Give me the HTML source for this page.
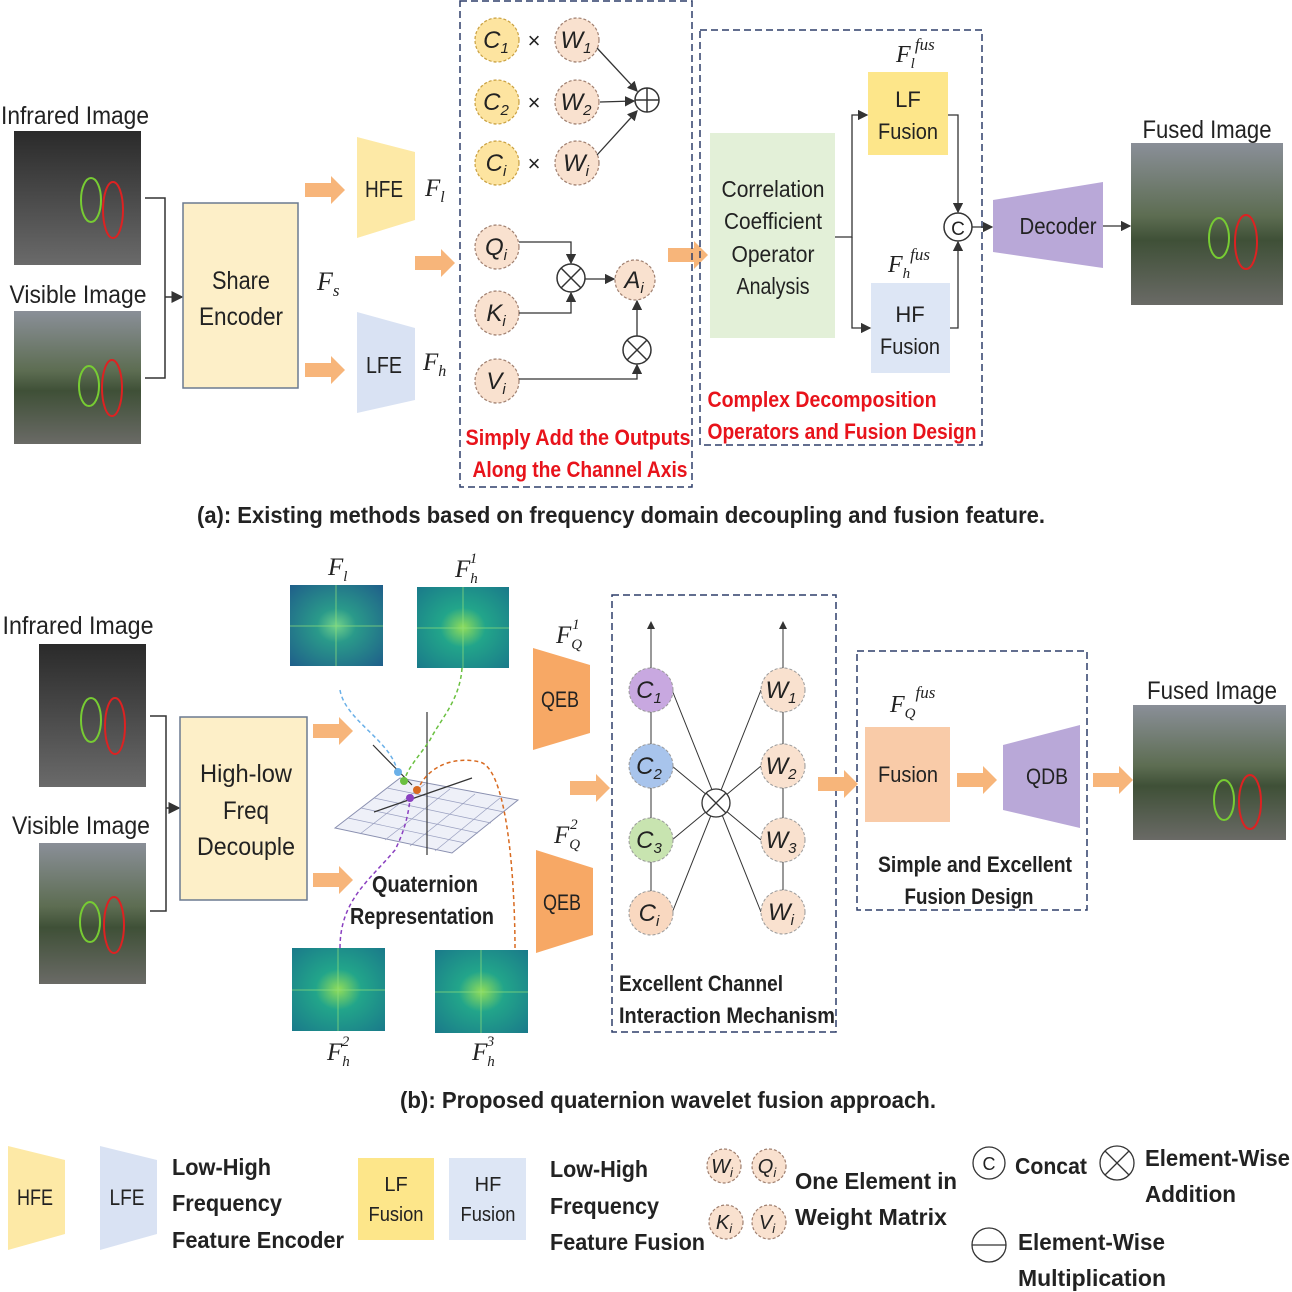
<!DOCTYPE html>
<html><head><meta charset="utf-8"><style>
html,body{margin:0;padding:0;background:#fff}
svg{display:block}
text{font-family:"Liberation Sans Narrow","Liberation Sans",sans-serif;fill:#222}
.m{font-family:"Liberation Serif",serif;font-style:italic}
.b{font-weight:bold}
.r{fill:#e8131b;font-weight:bold}
</style></head><body>
<svg width="1292" height="1292" viewBox="0 0 1292 1292" xmlns="http://www.w3.org/2000/svg">
<defs>
<marker id="ah" markerWidth="8" markerHeight="8" refX="7" refY="4" orient="auto"><path d="M0,0 L8,4 L0,8 z" fill="#333"/></marker>
<linearGradient id="ir" x1="0" y1="0" x2="0" y2="1"><stop offset="0" stop-color="#2a2a2a"/><stop offset="0.5" stop-color="#4a4a4a"/><stop offset="1" stop-color="#6a6a6a"/></linearGradient>
<linearGradient id="vi" x1="0" y1="0" x2="0" y2="1"><stop offset="0" stop-color="#8a8f98"/><stop offset="0.45" stop-color="#5d6d52"/><stop offset="0.6" stop-color="#3f5037"/><stop offset="1" stop-color="#6a6a66"/></linearGradient>
<radialGradient id="sp" cx="0.5" cy="0.5" r="0.7"><stop offset="0" stop-color="#6fd08a"/><stop offset="0.3" stop-color="#2a9a8a"/><stop offset="1" stop-color="#1f5f8a"/></radialGradient>
<radialGradient id="sp2" cx="0.5" cy="0.5" r="0.7"><stop offset="0" stop-color="#8fdc5a"/><stop offset="0.35" stop-color="#22a58a"/><stop offset="1" stop-color="#1a7a8a"/></radialGradient>
<g id="oarr"><path d="M0,-7 H26 V-14 L40,0 L26,14 V7 H0 z" fill="#f7b57a"/></g>
</defs>

<!-- ===== (a) ===== -->
<text x="75" y="124" font-size="25" text-anchor="middle" textLength="148" lengthAdjust="spacingAndGlyphs">Infrared Image</text>
<rect x="14" y="131" width="127" height="134" fill="url(#ir)"/>
<ellipse cx="91" cy="200" rx="10" ry="22" fill="none" stroke="#7c3" stroke-width="2"/>
<ellipse cx="113" cy="210" rx="10" ry="28" fill="none" stroke="#d22" stroke-width="2"/>
<text x="78" y="303" font-size="25" text-anchor="middle" textLength="137" lengthAdjust="spacingAndGlyphs">Visible Image</text>
<rect x="14" y="311" width="127" height="133" fill="url(#vi)"/>
<ellipse cx="89" cy="386" rx="10" ry="20" fill="none" stroke="#7c3" stroke-width="2"/>
<ellipse cx="112" cy="388" rx="10" ry="28" fill="none" stroke="#d22" stroke-width="2"/>
<path d="M145,198 H165 V378 H145" fill="none" stroke="#333" stroke-width="1.5"/>
<line x1="165" y1="297" x2="182" y2="297" stroke="#333" stroke-width="1.5" marker-end="url(#ah)"/>
<rect x="183" y="203" width="115" height="185" fill="#fdefc8" stroke="#6b7a90" stroke-width="1.5"/>
<text x="241" y="289" font-size="25" text-anchor="middle" textLength="58" lengthAdjust="spacingAndGlyphs">Share</text>
<text x="241" y="325" font-size="25" text-anchor="middle" textLength="84" lengthAdjust="spacingAndGlyphs">Encoder</text>
<text x="317" y="290" font-size="26" class="m">F<tspan font-size="17" dy="6">s</tspan></text>
<use href="#oarr" x="305" y="190"/>
<use href="#oarr" x="305" y="370"/>
<use href="#oarr" x="415" y="263"/>
<use href="#oarr" x="668" y="255"/>
<polygon points="357,137 415,152 415,220 357,238" fill="#fde9a6"/>
<text x="384" y="197" font-size="23" text-anchor="middle" textLength="38" lengthAdjust="spacingAndGlyphs">HFE</text>
<text x="425" y="196" font-size="25" class="m">F<tspan font-size="16" dy="6">l</tspan></text>
<polygon points="357,312 415,328 415,400 357,413" fill="#d9e2f3"/>
<text x="384" y="373" font-size="23" text-anchor="middle" textLength="36" lengthAdjust="spacingAndGlyphs">LFE</text>
<text x="423" y="370" font-size="25" class="m">F<tspan font-size="16" dy="6">h</tspan></text>

<rect x="460" y="1" width="232" height="486" fill="none" stroke="#2f3f6a" stroke-width="1.5" stroke-dasharray="7,4"/>
<g stroke="#c9a040" stroke-dasharray="3,2" stroke-width="1.2">
<circle cx="497" cy="40" r="22" fill="#fde4a0"/><circle cx="497" cy="102" r="22" fill="#fde4a0"/><circle cx="497" cy="163" r="22" fill="#fde4a0"/>
</g>
<g stroke="#a08070" stroke-dasharray="3,2" stroke-width="1.2" fill="#f9e1cf">
<circle cx="577" cy="40" r="22"/><circle cx="577" cy="102" r="22"/><circle cx="577" cy="163" r="22"/>
<circle cx="497" cy="247" r="22"/><circle cx="497" cy="313" r="22"/><circle cx="497" cy="381" r="22"/>
<circle cx="635" cy="280" r="20"/>
</g>
<g font-size="24" class="m" text-anchor="middle">
<text x="496" y="48">C<tspan font-size="15" dy="5">1</tspan></text>
<text x="496" y="110">C<tspan font-size="15" dy="5">2</tspan></text>
<text x="496" y="171">C<tspan font-size="15" dy="5">i</tspan></text>
<text x="576" y="48">W<tspan font-size="15" dy="5">1</tspan></text>
<text x="576" y="110">W<tspan font-size="15" dy="5">2</tspan></text>
<text x="576" y="171">W<tspan font-size="15" dy="5">i</tspan></text>
<text x="496" y="255">Q<tspan font-size="15" dy="5">i</tspan></text>
<text x="496" y="321">K<tspan font-size="15" dy="5">i</tspan></text>
<text x="496" y="389">V<tspan font-size="15" dy="5">i</tspan></text>
<text x="634" y="288">A<tspan font-size="15" dy="5">i</tspan></text>
</g>
<g font-size="22" text-anchor="middle"><text x="534" y="48">×</text><text x="534" y="110">×</text><text x="534" y="171">×</text></g>
<circle cx="647" cy="100" r="12" fill="#fff" stroke="#333" stroke-width="1.5"/>
<path d="M635,100 H659 M647,88 V112" stroke="#333" stroke-width="1.5"/>
<g stroke="#333" stroke-width="1.3" fill="none" marker-end="url(#ah)">
<line x1="597" y1="48" x2="637" y2="91"/>
<line x1="600" y1="102" x2="634" y2="101"/>
<line x1="597" y1="155" x2="637" y2="111"/>
<path d="M519,242 H571 V263"/>
<path d="M519,313 H571 V293"/>
<line x1="585" y1="279" x2="614" y2="279"/>
<line x1="637" y1="336" x2="637" y2="301"/>
<path d="M519,379 H637 V365"/>
</g>
<g stroke="#333" stroke-width="1.5" fill="#fff">
<circle cx="571" cy="278" r="14"/><circle cx="637" cy="350" r="14"/>
</g>
<path d="M561,268 L581,288 M581,268 L561,288 M627,340 L647,360 M647,340 L627,360" stroke="#333" stroke-width="1.5"/>
<text x="578" y="445" font-size="22" class="r" text-anchor="middle" textLength="225" lengthAdjust="spacingAndGlyphs">Simply Add the Outputs</text>
<text x="580" y="477" font-size="22" class="r" text-anchor="middle" textLength="215" lengthAdjust="spacingAndGlyphs">Along the Channel Axis</text>

<rect x="700" y="30" width="282" height="415" fill="none" stroke="#2f3f6a" stroke-width="1.5" stroke-dasharray="7,4"/>
<rect x="710" y="133" width="125" height="205" fill="#e3f0d8"/>
<g font-size="23" text-anchor="middle">
<text x="773" y="197" textLength="103" lengthAdjust="spacingAndGlyphs">Correlation</text>
<text x="773" y="229" textLength="98" lengthAdjust="spacingAndGlyphs">Coefficient</text>
<text x="773" y="262" textLength="83" lengthAdjust="spacingAndGlyphs">Operator</text>
<text x="773" y="294" textLength="73" lengthAdjust="spacingAndGlyphs">Analysis</text></g>
<rect x="868" y="72" width="80" height="83" fill="#fde68a"/>
<text x="908" y="107" font-size="22" text-anchor="middle">LF</text><text x="908" y="139" font-size="22" text-anchor="middle" textLength="60" lengthAdjust="spacingAndGlyphs">Fusion</text>
<rect x="871" y="283" width="79" height="90" fill="#dde6f5"/>
<text x="910" y="322" font-size="22" text-anchor="middle">HF</text><text x="910" y="354" font-size="22" text-anchor="middle" textLength="60" lengthAdjust="spacingAndGlyphs">Fusion</text>
<text x="896" y="62" font-size="24" class="m">F<tspan font-size="15" dy="6">l</tspan><tspan font-size="17" dy="-18">fus</tspan></text>
<text x="888" y="272" font-size="24" class="m">F<tspan font-size="15" dy="6">h</tspan><tspan font-size="17" dy="-18">fus</tspan></text>
<g stroke="#333" stroke-width="1.3" fill="none" marker-end="url(#ah)">
<path d="M835,237 H852 V115 H867"/>
<path d="M852,237 V328 H870"/>
<path d="M948,115 H958 V212"/>
<path d="M950,328 H958 V242"/>
<line x1="972" y1="227" x2="992" y2="227"/>
<line x1="1103" y1="226" x2="1130" y2="226"/>
</g>
<circle cx="958" cy="227" r="14" fill="#fff" stroke="#333" stroke-width="1.5"/>
<text x="958" y="235" font-size="19" text-anchor="middle">C</text>
<polygon points="993,200 1103,182 1103,268 993,252" fill="#b9a8d8"/>
<text x="1058" y="234" font-size="23" text-anchor="middle" textLength="77" lengthAdjust="spacingAndGlyphs">Decoder</text>
<text x="822" y="407" font-size="22" class="r" text-anchor="middle" textLength="229" lengthAdjust="spacingAndGlyphs">Complex Decomposition</text>
<text x="842" y="439" font-size="22" class="r" text-anchor="middle" textLength="269" lengthAdjust="spacingAndGlyphs">Operators and Fusion Design</text>
<text x="1207" y="138" font-size="25" text-anchor="middle" textLength="129" lengthAdjust="spacingAndGlyphs">Fused Image</text>
<rect x="1131" y="143" width="152" height="162" fill="url(#vi)"/>
<ellipse cx="1219" cy="238" rx="10" ry="20" fill="none" stroke="#7c3" stroke-width="2"/>
<ellipse cx="1246" cy="242" rx="11" ry="27" fill="none" stroke="#d22" stroke-width="2"/>
<text x="621" y="523" font-size="23" class="b" text-anchor="middle" textLength="848" lengthAdjust="spacingAndGlyphs">(a): Existing methods based on frequency domain decoupling and fusion feature.</text>

<!-- ===== (b) ===== -->
<text x="78" y="634" font-size="25" text-anchor="middle" textLength="151" lengthAdjust="spacingAndGlyphs">Infrared Image</text>
<rect x="39" y="644" width="107" height="143" fill="url(#ir)"/>
<ellipse cx="91" cy="720" rx="10" ry="22" fill="none" stroke="#7c3" stroke-width="2"/>
<ellipse cx="115" cy="726" rx="10" ry="28" fill="none" stroke="#d22" stroke-width="2"/>
<text x="81" y="834" font-size="25" text-anchor="middle" textLength="138" lengthAdjust="spacingAndGlyphs">Visible Image</text>
<rect x="39" y="843" width="107" height="141" fill="url(#vi)"/>
<ellipse cx="90" cy="922" rx="10" ry="20" fill="none" stroke="#7c3" stroke-width="2"/>
<ellipse cx="114" cy="925" rx="10" ry="28" fill="none" stroke="#d22" stroke-width="2"/>
<path d="M150,716 H166 V911 H150" fill="none" stroke="#333" stroke-width="1.5"/>
<line x1="166" y1="808" x2="179" y2="808" stroke="#333" stroke-width="1.5" marker-end="url(#ah)"/>
<rect x="180" y="717" width="127" height="183" fill="#fdefc8" stroke="#6b7a90" stroke-width="1.5"/>
<g font-size="25" text-anchor="middle">
<text x="246" y="782" textLength="92" lengthAdjust="spacingAndGlyphs">High-low</text>
<text x="246" y="819" textLength="46" lengthAdjust="spacingAndGlyphs">Freq</text>
<text x="246" y="855" textLength="98" lengthAdjust="spacingAndGlyphs">Decouple</text></g>
<use href="#oarr" x="313" y="731"/>
<use href="#oarr" x="313" y="880"/>
<rect x="290" y="585" width="93" height="81" fill="url(#sp)"/>
<rect x="417" y="587" width="92" height="81" fill="url(#sp2)"/>
<rect x="292" y="948" width="93" height="83" fill="url(#sp2)"/>
<rect x="435" y="950" width="93" height="83" fill="url(#sp2)"/>
<g stroke="#8fe07a" stroke-width="1" opacity="0.7">
<path d="M336,585 V666 M290,626 H383 M463,587 V668 M417,628 H509 M338,948 V1031 M292,990 H385 M481,950 V1033 M435,992 H528"/></g>
<text x="328" y="575" font-size="25" class="m">F<tspan font-size="15" dy="6">l</tspan></text>
<text x="455" y="577" font-size="25" class="m">F<tspan font-size="15" dy="6">h</tspan><tspan font-size="15" dy="-20" dx="-8">1</tspan></text>
<text x="327" y="1060" font-size="25" class="m">F<tspan font-size="15" dy="6">h</tspan><tspan font-size="15" dy="-20" dx="-8">2</tspan></text>
<text x="472" y="1060" font-size="25" class="m">F<tspan font-size="15" dy="6">h</tspan><tspan font-size="15" dy="-20" dx="-8">3</tspan></text>
<!-- quaternion plot -->
<polygon points="335,828 400,778 518,800 452,853" fill="#eef0f8" stroke="#8a90b0" stroke-width="1"/>
<g stroke="#9aa0c0" stroke-width="0.7">
<path d="M348,818 L465,843 M361,808 L478,833 M374,798 L491,823 M387,788 L504,812 M360,834 L425,784 M385,840 L450,789 M410,846 L475,794 M435,851 L500,798"/></g>
<path d="M427,712 V855 M373,745 L412,785 M374,812 L472,778" stroke="#333" stroke-width="1.2" fill="none"/>
<path d="M340,690 C345,720 390,740 397,770" stroke="#6ab0e8" stroke-width="1.5" stroke-dasharray="4,3" fill="none"/>
<path d="M462,668 C460,700 440,720 430,740 C420,755 410,765 405,778" stroke="#6ac040" stroke-width="1.5" stroke-dasharray="4,3" fill="none"/>
<path d="M340,948 C340,900 370,880 395,850 C405,830 408,815 410,800" stroke="#8a40c0" stroke-width="1.5" stroke-dasharray="4,3" fill="none"/>
<path d="M515,948 C515,900 510,770 480,762 C450,755 425,770 418,790" stroke="#d86a20" stroke-width="1.5" stroke-dasharray="4,3" fill="none"/>
<circle cx="398" cy="772" r="4" fill="#6ab0e8"/><circle cx="404" cy="781" r="4" fill="#6ac040"/><circle cx="410" cy="798" r="4" fill="#8a40c0"/><circle cx="417" cy="790" r="4" fill="#d86a20"/>
<text x="425" y="892" font-size="23" class="b" text-anchor="middle" textLength="106" lengthAdjust="spacingAndGlyphs">Quaternion</text>
<text x="422" y="924" font-size="23" class="b" text-anchor="middle" textLength="144" lengthAdjust="spacingAndGlyphs">Representation</text>
<polygon points="533,648 590,665 590,733 533,750" fill="#f7a865"/>
<text x="560" y="707" font-size="22" text-anchor="middle" textLength="38" lengthAdjust="spacingAndGlyphs">QEB</text>
<polygon points="536,850 593,868 593,935 536,953" fill="#f7a865"/>
<text x="562" y="910" font-size="22" text-anchor="middle" textLength="38" lengthAdjust="spacingAndGlyphs">QEB</text>
<text x="556" y="643" font-size="25" class="m">F<tspan font-size="15" dy="6">Q</tspan><tspan font-size="15" dy="-20" dx="-10">1</tspan></text>
<text x="554" y="843" font-size="25" class="m">F<tspan font-size="15" dy="6">Q</tspan><tspan font-size="15" dy="-20" dx="-10">2</tspan></text>
<use href="#oarr" x="570" y="788"/>
<rect x="612" y="595" width="224" height="437" fill="none" stroke="#2f3f6a" stroke-width="1.5" stroke-dasharray="7,4"/>
<g stroke="#333" stroke-width="1">
<line x1="651" y1="668" x2="651" y2="622" marker-end="url(#ah)"/>
<line x1="783" y1="668" x2="783" y2="622" marker-end="url(#ah)"/>
<path d="M672,690 L761,912 M672,766 L761,840 M672,840 L761,766 M672,913 L761,690 M651,712 V744 M651,788 V818 M651,862 V891 M783,712 V744 M783,788 V818 M783,862 V890"/>
</g>
<circle cx="716" cy="803" r="14" fill="#fff" stroke="#333" stroke-width="1.3"/>
<path d="M706,793 L726,813 M726,793 L706,813" stroke="#333" stroke-width="1.3"/>
<g stroke="#999" stroke-dasharray="3,2" stroke-width="1">
<circle cx="651" cy="690" r="22" fill="#c8a8e0"/><circle cx="651" cy="766" r="22" fill="#a8c4ec"/><circle cx="651" cy="840" r="22" fill="#c8e4b0"/><circle cx="651" cy="913" r="22" fill="#f9d8c0"/>
<circle cx="783" cy="690" r="22" fill="#f9e1cf"/><circle cx="783" cy="766" r="22" fill="#f9e1cf"/><circle cx="783" cy="840" r="22" fill="#f9e1cf"/><circle cx="783" cy="912" r="22" fill="#f9e1cf"/>
</g>
<g font-size="24" class="m" text-anchor="middle">
<text x="649" y="698">C<tspan font-size="15" dy="5">1</tspan></text>
<text x="649" y="774">C<tspan font-size="15" dy="5">2</tspan></text>
<text x="649" y="848">C<tspan font-size="15" dy="5">3</tspan></text>
<text x="649" y="921">C<tspan font-size="15" dy="5">i</tspan></text>
<text x="781" y="698">W<tspan font-size="15" dy="5">1</tspan></text>
<text x="781" y="774">W<tspan font-size="15" dy="5">2</tspan></text>
<text x="781" y="848">W<tspan font-size="15" dy="5">3</tspan></text>
<text x="781" y="920">W<tspan font-size="15" dy="5">i</tspan></text>
</g>
<text x="619" y="991" font-size="22" class="b" textLength="164" lengthAdjust="spacingAndGlyphs">Excellent Channel</text>
<text x="619" y="1023" font-size="22" class="b" textLength="216" lengthAdjust="spacingAndGlyphs">Interaction Mechanism</text>
<use href="#oarr" x="818" y="784"/>
<rect x="857" y="651" width="230" height="259" fill="none" stroke="#2f3f6a" stroke-width="1.5" stroke-dasharray="7,4"/>
<rect x="865" y="727" width="85" height="95" fill="#f9cba8"/>
<text x="908" y="782" font-size="22" text-anchor="middle" textLength="60" lengthAdjust="spacingAndGlyphs">Fusion</text>
<text x="890" y="712" font-size="24" class="m">F<tspan font-size="15" dy="6">Q</tspan><tspan font-size="17" dy="-20">fus</tspan></text>
<use href="#oarr" x="957" y="780"/>
<polygon points="1003,745 1080,725 1080,828 1003,810" fill="#b9a8d8"/>
<text x="1047" y="784" font-size="22" text-anchor="middle" textLength="42" lengthAdjust="spacingAndGlyphs">QDB</text>
<text x="975" y="872" font-size="22" class="b" text-anchor="middle" textLength="194" lengthAdjust="spacingAndGlyphs">Simple and Excellent</text>
<text x="969" y="904" font-size="22" class="b" text-anchor="middle" textLength="129" lengthAdjust="spacingAndGlyphs">Fusion Design</text>
<use href="#oarr" x="1093" y="780"/>
<text x="1212" y="699" font-size="25" text-anchor="middle" textLength="130" lengthAdjust="spacingAndGlyphs">Fused Image</text>
<rect x="1133" y="705" width="153" height="135" fill="url(#vi)"/>
<ellipse cx="1224" cy="800" rx="10" ry="20" fill="none" stroke="#7c3" stroke-width="2"/>
<ellipse cx="1250" cy="802" rx="11" ry="27" fill="none" stroke="#d22" stroke-width="2"/>
<text x="668" y="1108" font-size="23" class="b" text-anchor="middle" textLength="536" lengthAdjust="spacingAndGlyphs">(b): Proposed quaternion wavelet fusion approach.</text>

<!-- ===== legend ===== -->
<polygon points="8,1146 65,1160 65,1234 8,1250" fill="#fde9a6"/>
<text x="35" y="1205" font-size="22" text-anchor="middle" textLength="36" lengthAdjust="spacingAndGlyphs">HFE</text>
<polygon points="100,1146 157,1160 157,1234 100,1250" fill="#d9e2f3"/>
<text x="127" y="1205" font-size="22" text-anchor="middle" textLength="35" lengthAdjust="spacingAndGlyphs">LFE</text>
<g font-size="23" class="b">
<text x="172" y="1175" textLength="99" lengthAdjust="spacingAndGlyphs">Low-High</text>
<text x="172" y="1211" textLength="110" lengthAdjust="spacingAndGlyphs">Frequency</text>
<text x="172" y="1248" textLength="172" lengthAdjust="spacingAndGlyphs">Feature Encoder</text></g>
<rect x="358" y="1158" width="76" height="82" fill="#fde68a"/>
<text x="396" y="1191" font-size="20" text-anchor="middle">LF</text><text x="396" y="1221" font-size="20" text-anchor="middle" textLength="55" lengthAdjust="spacingAndGlyphs">Fusion</text>
<rect x="449" y="1158" width="77" height="82" fill="#dde6f5"/>
<text x="488" y="1191" font-size="20" text-anchor="middle">HF</text><text x="488" y="1221" font-size="20" text-anchor="middle" textLength="55" lengthAdjust="spacingAndGlyphs">Fusion</text>
<g font-size="23" class="b">
<text x="550" y="1177" textLength="98" lengthAdjust="spacingAndGlyphs">Low-High</text>
<text x="550" y="1214" textLength="109" lengthAdjust="spacingAndGlyphs">Frequency</text>
<text x="550" y="1250" textLength="155" lengthAdjust="spacingAndGlyphs">Feature Fusion</text></g>
<g stroke="#a08070" stroke-dasharray="3,2" stroke-width="1.2" fill="#f9e1cf">
<circle cx="724" cy="1166" r="17"/><circle cx="769" cy="1166" r="17"/><circle cx="726" cy="1222" r="17"/><circle cx="769" cy="1222" r="17"/></g>
<g font-size="20" class="m" text-anchor="middle">
<text x="722" y="1173">W<tspan font-size="13" dy="4">i</tspan></text><text x="767" y="1173">Q<tspan font-size="13" dy="4">i</tspan></text>
<text x="724" y="1229">K<tspan font-size="13" dy="4">i</tspan></text><text x="767" y="1229">V<tspan font-size="13" dy="4">i</tspan></text></g>
<g font-size="23" class="b">
<text x="795" y="1189" textLength="162" lengthAdjust="spacingAndGlyphs">One Element in</text>
<text x="795" y="1225" textLength="152" lengthAdjust="spacingAndGlyphs">Weight Matrix</text></g>
<circle cx="989" cy="1163" r="16" fill="#fff" stroke="#333" stroke-width="1.3"/>
<text x="989" y="1170" font-size="18" text-anchor="middle">C</text>
<text x="1015" y="1174" font-size="23" class="b" textLength="72" lengthAdjust="spacingAndGlyphs">Concat</text>
<circle cx="1117" cy="1163" r="17" fill="#fff" stroke="#333" stroke-width="1.3"/>
<path d="M1105,1151 L1129,1175 M1129,1151 L1105,1175" stroke="#333" stroke-width="1.3"/>
<text x="1145" y="1166" font-size="23" class="b" textLength="145" lengthAdjust="spacingAndGlyphs">Element-Wise</text>
<text x="1145" y="1202" font-size="23" class="b" textLength="91" lengthAdjust="spacingAndGlyphs">Addition</text>
<circle cx="989" cy="1245" r="17" fill="#fff" stroke="#333" stroke-width="1.3"/>
<line x1="972" y1="1245" x2="1006" y2="1245" stroke="#333" stroke-width="1.3"/>
<text x="1018" y="1250" font-size="23" class="b" textLength="147" lengthAdjust="spacingAndGlyphs">Element-Wise</text>
<text x="1018" y="1286" font-size="23" class="b" textLength="148" lengthAdjust="spacingAndGlyphs">Multiplication</text>
</svg>
</body></html>
